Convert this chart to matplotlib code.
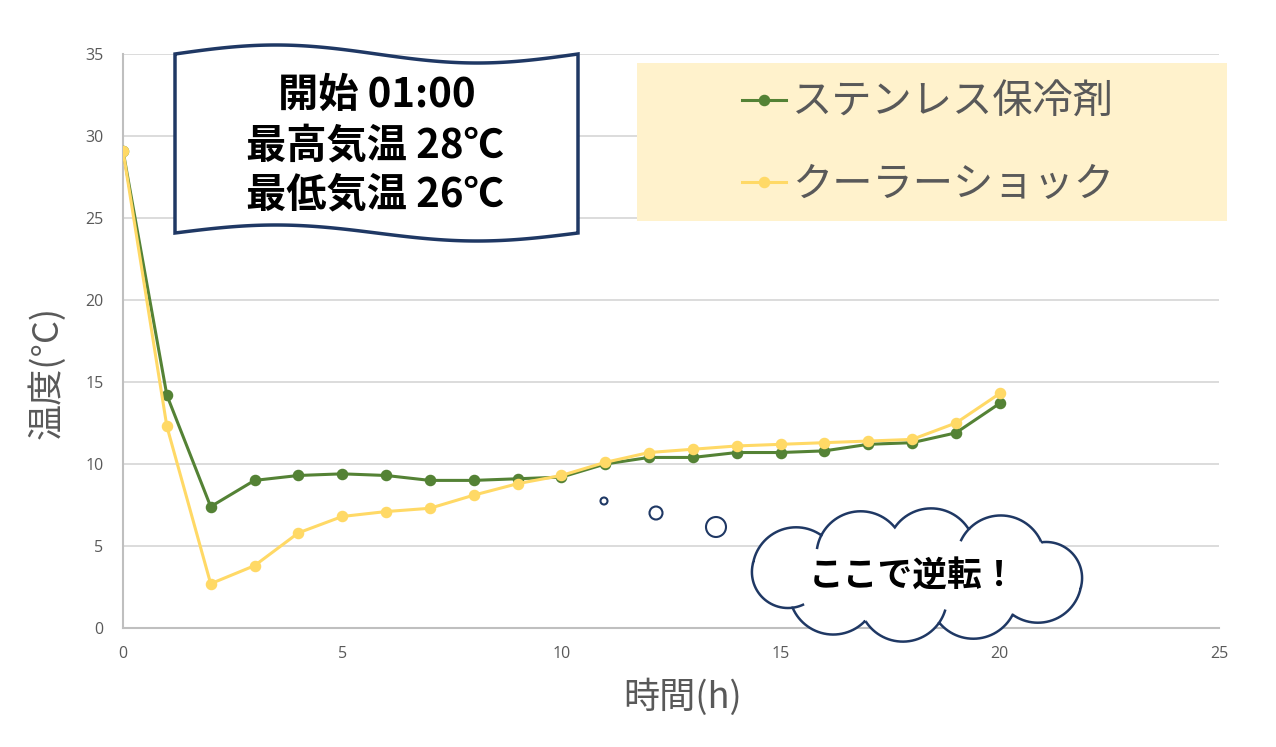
import numpy as np
import matplotlib
matplotlib.use('Agg')
import matplotlib.pyplot as plt
from matplotlib.patches import Polygon, Rectangle, Circle
from matplotlib.path import Path

plt.rcParams['font.family'] = ['Noto Sans CJK JP', 'DejaVu Sans']

# ---------------- data ----------------
hours = list(range(21))
stainless = [29.1, 14.2, 7.4, 9.0, 9.3, 9.4, 9.3, 9.0, 9.0, 9.1, 9.2,
             10.0, 10.4, 10.4, 10.7, 10.7, 10.8, 11.2, 11.3, 11.9, 13.7]
cooler = [29.1, 12.3, 2.7, 3.8, 5.8, 6.8, 7.1, 7.3, 8.1, 8.8, 9.3,
          10.1, 10.7, 10.9, 11.1, 11.2, 11.3, 11.4, 11.5, 12.5, 14.3]
series_names = ['ステンレス保冷剤', 'クーラーショック']
x_ticks = [0, 5, 10, 15, 20, 25]
y_ticks = [0, 5, 10, 15, 20, 25, 30, 35]
x_label = '時間(h)'
y_label = '温度(°C)'
banner_lines = ['開始 01:00', '最高気温 28℃', '最低気温 26℃']
callout_text = 'ここで逆転！'

GREEN = '#548235'
YELLOW = '#ffd966'
GRAY = '#595959'
NAVY = '#1f3864'

W, H = 1276, 747
fig = plt.figure(figsize=(W / 100, H / 100), dpi=100)
ax = fig.add_axes([123 / W, 1 - 628 / H, 1096 / W, 574 / H])

ax.plot(hours, stainless, color=GREEN, lw=2.2, marker='o', ms=7.3, zorder=3)
ax.plot(hours, cooler, color=YELLOW, lw=2.2, marker='o', ms=7.3, zorder=4)

ax.set_xlim(0, 25)
ax.set_ylim(0, 35)
ax.set_xticks(x_ticks)
ax.set_yticks(y_ticks)
ax.grid(axis='y', color='#d9d9d9', lw=1.3)
ax.set_axisbelow(True)
for s in ['top', 'right']:
    ax.spines[s].set_visible(False)
for s in ['left', 'bottom']:
    ax.spines[s].set_color('#bfbfbf')
    ax.spines[s].set_linewidth(1.5)
ax.tick_params(length=0, labelsize=11.5, labelcolor=GRAY)
ax.tick_params(axis='y', pad=14)
ax.tick_params(axis='x', pad=13)
plt.setp(ax.get_xticklabels() + ax.get_yticklabels(), fontfamily=['Open Sans', 'DejaVu Sans'])

ax.set_xlabel(x_label, fontsize=26, color=GRAY, va='center')
ax.xaxis.set_label_coords((683 - 123) / 1096, (628 - 697) / 574)
ax.set_ylabel(y_label, fontsize=26, color=GRAY, va='center')
ax.yaxis.set_label_coords((47 - 123) / 1096, (628 - 372) / 574)

# ---------------- overlay (pixel coords) ----------------
ov = fig.add_axes([0, 0, 1, 1], zorder=5)
ov.set_xlim(0, W)
ov.set_ylim(H, 0)
ov.axis('off')
ov.patch.set_alpha(0)

# legend background and legend
ov.add_patch(Rectangle((637, 63), 590, 158, fc='#fff2cc', ec='none', zorder=1))
leg = ov.legend(ax.lines, series_names, loc='upper left',
                bbox_to_anchor=(742, 82), bbox_transform=ov.transData,
                frameon=False, fontsize=29, labelcolor=GRAY,
                handlelength=1.1, handletextpad=0.15, labelspacing=1.02,
                borderpad=0, borderaxespad=0)
leg.set_zorder(2)

# wavy banner
t = np.linspace(0, 1, 200)
bx = 175 + 403 * t
top = 54 - 9 * np.sin(2 * np.pi * t)
bot = 233 - 8 * np.sin(2 * np.pi * t)
poly = np.vstack([np.column_stack([bx, top]), np.column_stack([bx[::-1], bot[::-1]])])
ov.add_patch(Polygon(poly, closed=True, fc='white', ec=NAVY, lw=2.5, zorder=3))
for txt, (tx, ty) in zip(banner_lines, [(377, 95), (375, 146), (375, 195)]):
    ov.text(tx, ty, txt, ha='center', va='center', fontsize=29,
            fontweight='bold', color='black', zorder=4)

# thought bubbles
for (px, py, r) in [(604, 501, 3.5), (656, 513, 6.5), (716, 527, 10)]:
    ov.add_patch(Circle((px, py), r, fc='white', ec=NAVY, lw=1.5, zorder=3))

# cloud: scalloped ellipse with anchors spaced by arc length
cx, cy = 917, 575
a, b = 170, 48
n = 10
tt = np.linspace(0, 2 * np.pi, 2000)
ex = cx + a * np.cos(tt)
ey = cy + b * np.sin(tt)
arclen = np.concatenate([[0], np.cumsum(np.hypot(np.diff(ex), np.diff(ey)))])
targets = (np.arange(n + 1) / n + 0.02) * arclen[-1]
targets = np.mod(targets, arclen[-1])
anchor_t = np.interp(targets, arclen, tt)
anchor_t[-1] = anchor_t[0] + 2 * np.pi
outline = []
ext_arcs = []
for k in range(n):
    p0 = np.array([cx + a * np.cos(anchor_t[k]), cy + b * np.sin(anchor_t[k])])
    p1 = np.array([cx + a * np.cos(anchor_t[k + 1]), cy + b * np.sin(anchor_t[k + 1])])
    d = p1 - p0
    L = np.hypot(*d)
    nrm = np.array([d[1], -d[0]]) / L
    mid = (p0 + p1) / 2
    if np.dot(nrm, mid - np.array([cx, cy])) < 0:
        nrm = -nrm
    h = 0.27 * L
    R = (L * L / 4 + h * h) / (2 * h)
    c = mid + nrm * (h - R)
    phi = np.arcsin(min(1.0, (L / 2) / R))
    th = np.arctan2(nrm[1], nrm[0])
    s = np.linspace(-phi, phi, 30)
    seg = np.column_stack([c[0] + R * np.cos(th + s), c[1] + R * np.sin(th + s)])
    flip = np.hypot(*(seg[0] - p0)) > np.hypot(*(seg[-1] - p0))
    if flip:
        seg = seg[::-1]
    outline.append(seg)
    if k % 2 == 0:
        ext = 0.3
        s2 = np.linspace(phi, phi + ext, 12) if flip else np.linspace(-phi - ext, -phi, 12)
        ext_arcs.append(np.column_stack([c[0] + R * np.cos(th + s2), c[1] + R * np.sin(th + s2)]))
outline = np.vstack(outline)
cloud_path = Path(outline)
ov.add_patch(Polygon(outline, closed=True, fc='white', ec=NAVY, lw=1.8, zorder=3))
for arc in ext_arcs:
    inside = cloud_path.contains_points(arc, radius=-2)
    if inside[1:].all() or cloud_path.contains_points(arc[-1:] if True else arc).all():
        pts = arc[cloud_path.contains_points(arc)]
        if len(pts) > 2:
            ov.plot(pts[:, 0], pts[:, 1], color=NAVY, lw=1.8, zorder=3.5)
ov.text(913, 576, callout_text, ha='center', va='center', fontsize=25,
        fontweight='bold', color='black', zorder=4)

fig.savefig('out.png', dpi=100)
